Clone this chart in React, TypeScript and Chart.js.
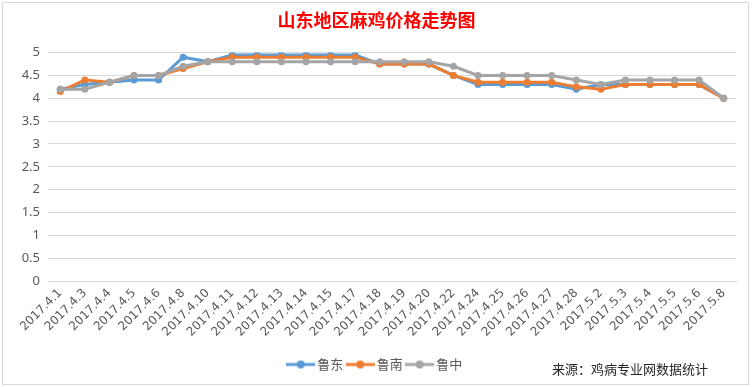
import React, { useEffect, useRef } from "react";
import { Chart, registerables } from "chart.js";

Chart.register(...registerables);

const categories = [
  "2017.4.1", "2017.4.3", "2017.4.4", "2017.4.5", "2017.4.6", "2017.4.8", "2017.4.10",
  "2017.4.11", "2017.4.12", "2017.4.13", "2017.4.14", "2017.4.15", "2017.4.17", "2017.4.18",
  "2017.4.19", "2017.4.20", "2017.4.22", "2017.4.24", "2017.4.25", "2017.4.26", "2017.4.27",
  "2017.4.28", "2017.5.2", "2017.5.3", "2017.5.4", "2017.5.5", "2017.5.6", "2017.5.8",
];

const ludong = [
  4.2, 4.3, 4.35, 4.4, 4.4, 4.9, 4.8,
  4.95, 4.95, 4.95, 4.95, 4.95, 4.95, 4.75,
  4.75, 4.75, 4.5, 4.3, 4.3, 4.3, 4.3,
  4.2, 4.3, 4.3, 4.3, 4.3, 4.3, 4.0,
];

const lunan = [
  4.15, 4.4, 4.35, 4.5, 4.5, 4.65, 4.8,
  4.9, 4.9, 4.9, 4.9, 4.9, 4.9, 4.75,
  4.75, 4.75, 4.5, 4.35, 4.35, 4.35, 4.35,
  4.25, 4.2, 4.3, 4.3, 4.3, 4.3, 4.0,
];

const luzhong = [
  4.2, 4.2, 4.35, 4.5, 4.5, 4.7, 4.8,
  4.8, 4.8, 4.8, 4.8, 4.8, 4.8, 4.8,
  4.8, 4.8, 4.7, 4.5, 4.5, 4.5, 4.5,
  4.4, 4.3, 4.4, 4.4, 4.4, 4.4, 4.0,
];

const seriesNames = ["鲁东", "鲁南", "鲁中"];
const seriesColors = ["#5B9BD5", "#ED7D31", "#A5A5A5"];
const titleText = "山东地区麻鸡价格走势图";
const sourceText = "来源：鸡病专业网数据统计";

function makeLegendIcon(color: string): HTMLCanvasElement {
  const c = document.createElement("canvas");
  c.width = 29;
  c.height = 10;
  const ctx = c.getContext("2d")!;
  ctx.strokeStyle = color;
  ctx.lineWidth = 3;
  ctx.beginPath();
  ctx.moveTo(0, 5);
  ctx.lineTo(29, 5);
  ctx.stroke();
  ctx.fillStyle = color;
  ctx.beginPath();
  ctx.arc(14.5, 5, 4, 0, Math.PI * 2);
  ctx.fill();
  return c;
}

export default function App() {
  const ref = useRef<HTMLCanvasElement | null>(null);

  useEffect(() => {
    document.body.style.margin = "0";
    const icons = seriesColors.map(makeLegendIcon);
    const seriesData = [ludong, lunan, luzhong];
    const chart = new Chart(ref.current!, {
      type: "line",
      data: {
        labels: categories,
        datasets: seriesNames.map((name, i) => ({
          label: name,
          data: seriesData[i],
          borderColor: seriesColors[i],
          backgroundColor: seriesColors[i],
          pointBackgroundColor: seriesColors[i],
          pointBorderColor: seriesColors[i],
          borderWidth: 3,
          pointRadius: 3.5,
          pointBorderWidth: 0,
          tension: 0,
          order: 3 - i,
        })),
      },
      options: {
        responsive: false,
        animation: false,
        layout: { padding: { left: 17, right: 17, top: 0, bottom: 6 } },
        plugins: {
          title: {
            display: true,
            text: titleText,
            color: "#FF0000",
            font: { family: "'Noto Sans CJK SC'", size: 18, weight: "bold" },
            padding: { top: 9, bottom: 22 },
          },
          legend: {
            display: true,
            position: "bottom",
            labels: {
              usePointStyle: true,
              pointStyleWidth: 20,
              color: "#595959",
              font: { family: "'Noto Sans CJK SC'", size: 13 },
              padding: 7,
              generateLabels: (ch: any) => {
                const items = Chart.defaults.plugins.legend.labels.generateLabels(ch);
                return items
                  .map((it: any) => ({ ...it, pointStyle: icons[it.datasetIndex] }))
                  .sort((a: any, b: any) => a.datasetIndex - b.datasetIndex);
              },
            },
          },
          tooltip: { enabled: false },
        },
        scales: {
          x: {
            offset: true,
            grid: { display: false, drawTicks: false },
            border: { display: true, color: "#D9D9D9" },
            ticks: {
              color: "#595959",
              font: { family: "'DejaVu Sans'", size: 12 },
              maxRotation: 45,
              minRotation: 45,
              autoSkip: false,
              padding: 5,
            },
            afterFit: (s: any) => {
              s.height = 70;
            },
          },
          y: {
            min: 0,
            max: 5,
            grid: { color: "#D9D9D9", drawTicks: false, lineWidth: 1 },
            border: { display: false },
            ticks: {
              stepSize: 0.5,
              color: "#595959",
              font: { family: "'Noto Sans'", size: 13 },
              padding: 8,
              callback: (v: any) => String(v),
            },
            afterFit: (s: any) => {
              s.width = 31;
            },
          },
        },
      },
    });
    return () => chart.destroy();
  }, []);

  return (
    <div style={{ position: "fixed", left: 0, top: 0, width: 753, height: 387, background: "#FFFFFF" }}>
      <canvas ref={ref} width={753} height={387} style={{ position: "absolute", left: 0, top: 0 }} />
      <div
        style={{
          position: "absolute",
          left: 2,
          top: 2,
          width: 745,
          height: 381,
          border: "1px solid #D9D9D9",
          pointerEvents: "none",
        }}
      />
      <div
        style={{
          position: "absolute",
          left: 552,
          top: 360,
          fontFamily: "'Noto Sans CJK SC'",
          fontSize: 13,
          lineHeight: "18px",
          color: "#262626",
          whiteSpace: "nowrap",
        }}
      >
        {sourceText}
      </div>
    </div>
  );
}
